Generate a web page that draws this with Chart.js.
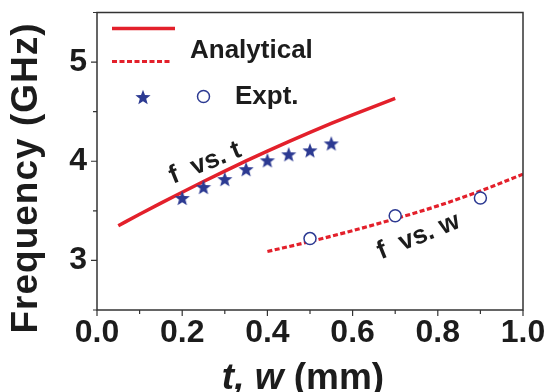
<!DOCTYPE html>
<html>
<head>
<meta charset="utf-8">
<script src="https://cdn.jsdelivr.net/npm/chart.js@4.4.0/dist/chart.umd.min.js"></script>
<style>
    html, body { margin: 0; padding: 0; background: #ffffff; }
    #wrap { width: 548px; height: 392px; }
</style>
</head>
<body>
<div id="wrap"><canvas id="freqChart" width="548" height="392"></canvas></div>
<script>
// analytical curve, frequency vs. thickness t (mm -> GHz)
const tAnalytic = [0.05, 0.10, 0.15, 0.20, 0.25, 0.30, 0.35, 0.40, 0.45, 0.50, 0.55, 0.60, 0.65, 0.70];
const fAnalyticT = [3.35, 3.465, 3.578, 3.688, 3.796, 3.901, 4.003, 4.102, 4.198, 4.291, 4.381, 4.468, 4.552, 4.633];

// analytical curve, frequency vs. width w
const wAnalytic = [0.4, 0.5, 0.6, 0.7, 0.8, 0.9, 1.0];
const fAnalyticW = [3.09, 3.19, 3.30, 3.42, 3.55, 3.70, 3.87];

// measured points
const tExpt = [0.20, 0.25, 0.30, 0.35, 0.40, 0.45, 0.50, 0.55];
const fExptT = [3.63, 3.74, 3.82, 3.92, 4.01, 4.07, 4.11, 4.18];
const wExpt = [0.5, 0.7, 0.9];
const fExptW = [3.22, 3.45, 3.63];

// axis labels
const xLabelValues = [0.0, 0.2, 0.4, 0.6, 0.8, 1.0];
const yLabelValues = [3, 4, 5];

const RED = '#e3202b';
const BLUE = '#2c3a92';
const INK = '#1c1c1c';
const FAMILY = "'Liberation Sans', Arial, Helvetica, sans-serif";

Chart.defaults.font.family = FAMILY;

function toPoints(xs, ys) {
    return xs.map((x, i) => ({ x: x, y: ys[i] }));
}

// filled five point star used as point style
function makeStar(r, color) {
    const c = document.createElement('canvas');
    const size = Math.ceil(r * 2) + 2;
    c.width = size;
    c.height = size;
    const g = c.getContext('2d');
    g.translate(size / 2, size / 2 + r * 0.1);
    g.beginPath();
    for (let k = 0; k < 10; k++) {
        const rad = k % 2 === 0 ? r : r * 0.42;
        const a = -Math.PI / 2 + k * Math.PI / 5;
        g.lineTo(rad * Math.cos(a), rad * Math.sin(a));
    }
    g.closePath();
    g.fillStyle = color;
    g.fill();
    return c;
}

const starImg = makeStar(8, BLUE);

function isLabelled(list, v) {
    return list.some(l => Math.abs(l - v) < 1e-6);
}

// no extra room for half labels at the ends of the axes
function fixBox(size) {
    return s => {
        if (s.isHorizontal()) s.height = size; else s.width = size;
        s.paddingTop = 0;
        s.paddingBottom = 0;
        s.paddingLeft = 0;
        s.paddingRight = 0;
    };
}

// frame, tick marks, legend, axis titles and curve notes
const decorations = {
    id: 'decorations',
    afterDatasetsDraw(chart) {
        const { ctx, chartArea: a, scales } = chart;
        ctx.save();

        // box
        ctx.strokeStyle = '#333333';
        ctx.lineWidth = 1.5;
        ctx.strokeRect(a.left, a.top, a.right - a.left, a.bottom - a.top);

        // tick marks, pointing out
        ctx.lineWidth = 1.2;
        ctx.beginPath();
        scales.x.ticks.forEach(t => {
            const px = scales.x.getPixelForValue(t.value);
            const len = isLabelled(xLabelValues, t.value) ? 6 : 4;
            ctx.moveTo(px, a.bottom);
            ctx.lineTo(px, a.bottom + len);
        });
        scales.y.ticks.forEach(t => {
            const py = scales.y.getPixelForValue(t.value);
            const len = isLabelled(yLabelValues, t.value) ? 6 : 4;
            ctx.moveTo(a.left, py);
            ctx.lineTo(a.left - len, py);
        });
        ctx.stroke();

        // legend
        ctx.strokeStyle = RED;
        ctx.lineWidth = 3.5;
        ctx.beginPath();
        ctx.moveTo(112, 28.5);
        ctx.lineTo(175, 28.5);
        ctx.stroke();
        ctx.lineWidth = 3.2;
        ctx.setLineDash([5, 2.5]);
        ctx.beginPath();
        ctx.moveTo(112, 61.5);
        ctx.lineTo(171, 61.5);
        ctx.stroke();
        ctx.setLineDash([]);

        ctx.drawImage(starImg, 143 - starImg.width / 2, 97 - starImg.height / 2);
        ctx.strokeStyle = BLUE;
        ctx.lineWidth = 1.5;
        ctx.beginPath();
        ctx.arc(203.5, 96.5, 6, 0, Math.PI * 2);
        ctx.stroke();

        ctx.fillStyle = INK;
        ctx.textAlign = 'left';
        ctx.textBaseline = 'alphabetic';
        ctx.font = 'bold 26px ' + FAMILY;
        ctx.fillText('Analytical', 190, 58);
        ctx.fillText('Expt.', 235, 104);

        // curve notes, anchored in data units
        const notes = [
            { text: 'f  vs. t', x: 0.254, y: 3.98 },
            { text: 'f  vs. w', x: 0.755, y: 3.24 }
        ];
        ctx.textAlign = 'center';
        ctx.textBaseline = 'middle';
        notes.forEach(n => {
            ctx.save();
            ctx.translate(scales.x.getPixelForValue(n.x), scales.y.getPixelForValue(n.y));
            ctx.rotate(-22 * Math.PI / 180);
            ctx.fillText(n.text, 0, 0);
            ctx.restore();
        });

        // y title
        ctx.save();
        ctx.translate(36.5, 178);
        ctx.rotate(-Math.PI / 2);
        ctx.textAlign = 'center';
        ctx.textBaseline = 'alphabetic';
        ctx.font = 'bold 37px ' + FAMILY;
        ctx.letterSpacing = '1px';
        ctx.fillText('Frequency (GHz)', 0, 0);
        ctx.restore();

        // x title: italic symbols, upright unit
        const italicPart = 't, w';
        const plainPart = ' (mm)';
        ctx.textAlign = 'left';
        ctx.textBaseline = 'alphabetic';
        ctx.font = 'italic bold 37px ' + FAMILY;
        const w1 = ctx.measureText(italicPart).width;
        ctx.font = 'bold 37px ' + FAMILY;
        const w2 = ctx.measureText(plainPart).width;
        const x0 = 303 - (w1 + w2) / 2;
        ctx.font = 'italic bold 37px ' + FAMILY;
        ctx.fillText(italicPart, x0, 389);
        ctx.font = 'bold 37px ' + FAMILY;
        ctx.fillText(plainPart, x0 + w1, 389);

        ctx.restore();
    }
};

new Chart(document.getElementById('freqChart'), {
    type: 'scatter',
    data: {
        datasets: [
            {
                label: 'Expt. t',
                data: toPoints(tExpt, fExptT),
                pointStyle: starImg,
                pointRadius: 8,
                order: 0
            },
            {
                label: 'Expt. w',
                data: toPoints(wExpt, fExptW),
                pointStyle: 'circle',
                pointRadius: 6,
                pointBorderWidth: 1.5,
                pointBorderColor: BLUE,
                pointBackgroundColor: '#ffffff',
                order: 0
            },
            {
                label: 'Analytical t',
                data: toPoints(tAnalytic, fAnalyticT),
                showLine: true,
                borderColor: RED,
                borderWidth: 3.5,
                pointRadius: 0,
                cubicInterpolationMode: 'monotone',
                order: 1
            },
            {
                label: 'Analytical w',
                data: toPoints(wAnalytic, fAnalyticW),
                showLine: true,
                borderColor: RED,
                borderWidth: 3.2,
                borderDash: [5, 2.5],
                pointRadius: 0,
                cubicInterpolationMode: 'monotone',
                order: 1
            }
        ]
    },
    options: {
        responsive: false,
        animation: false,
        devicePixelRatio: 1,
        layout: { padding: { top: 12.5, right: 25, left: 0, bottom: 0 } },
        plugins: {
            legend: { display: false },
            tooltip: { enabled: false }
        },
        scales: {
            x: {
                type: 'linear',
                min: 0,
                max: 1,
                grid: { display: false, drawTicks: false },
                border: { display: false },
                ticks: {
                    stepSize: 0.1,
                    autoSkip: false,
                    maxRotation: 0,
                    padding: 4,
                    color: INK,
                    font: { size: 32, weight: 'bold' },
                    callback: v => isLabelled(xLabelValues, v) ? v.toFixed(1) : ''
                },
                afterFit: fixBox(82)
            },
            y: {
                type: 'linear',
                min: 2.5,
                max: 5.5,
                grid: { display: false, drawTicks: false },
                border: { display: false },
                ticks: {
                    stepSize: 0.5,
                    autoSkip: false,
                    padding: 10,
                    color: INK,
                    font: { size: 32, weight: 'bold' },
                    callback: v => isLabelled(yLabelValues, v) ? String(v) : ''
                },
                afterFit: fixBox(97)
            }
        }
    },
    plugins: [decorations]
});
</script>
</body>
</html>
